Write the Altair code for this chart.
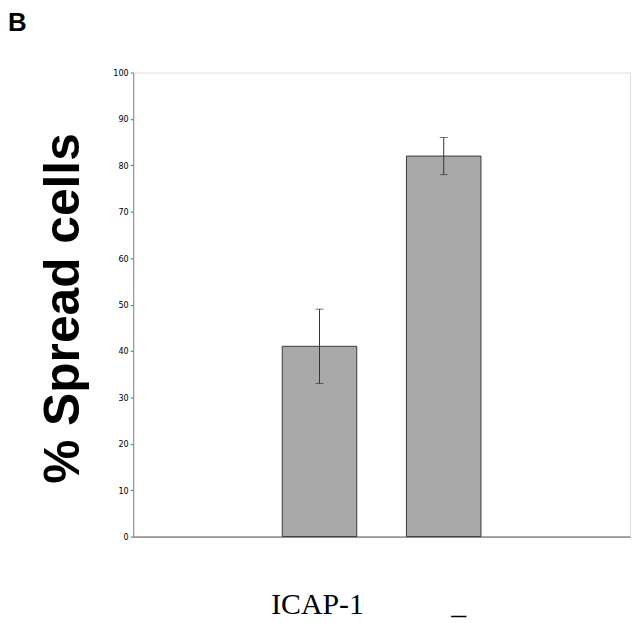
import altair as alt
import pandas as pd

slots = ["pad_left", "ICAP-1", "_", "pad_right"]
conditions = ["ICAP-1", "_"]
spread = [41, 82]
err = [8, 4]
y_ticks = [0, 10, 20, 30, 40, 50, 60, 70, 80, 90, 100]

df = pd.DataFrame({
    "cond": conditions,
    "value": spread,
    "lo": [v - e for v, e in zip(spread, err)],
    "hi": [v + e for v, e in zip(spread, err)],
})

xenc = alt.X(
    "cond:N",
    scale=alt.Scale(domain=slots, paddingInner=0.4, paddingOuter=0.2),
    axis=alt.Axis(
        title=None,
        labelExpr="datum.value == 'pad_left' || datum.value == 'pad_right' ? '' : datum.value",
        labelAngle=0,
        labelFont="Liberation Serif",
        labelFontSize=30,
        labelColor="black",
        labelBaseline="alphabetic",
        labelPadding=77,
        labelOffset={"condition": {"test": "datum.value == '_'", "value": 15}, "value": -2},
        ticks=False,
        domainColor="#555",
    ),
)

yscale = alt.Scale(domain=[0, 100], nice=False)

bars = alt.Chart(df).mark_bar(
    color="#a9a9a9", stroke="#3a3a3a", strokeWidth=1
).encode(
    x=xenc,
    y=alt.Y(
        "value:Q",
        scale=yscale,
        axis=alt.Axis(
            values=y_ticks,
            title="% Spread cells",
            titleFont="Liberation Sans",
            titleFontWeight="bold",
            titleFontSize=50,
            titleColor="black",
            titleAngle=-90,
            titleAlign="center",
            titleBaseline="middle",
            titleX=-70,
            titleY=237,
            labelFont="DejaVu Sans Condensed",
            labelFontSize=9,
            labelColor="black",
            tickSize=3,
            tickColor="#666",
            domainColor="#888",
            grid=False,
            labelPadding=2,
        ),
    ),
)

rules = alt.Chart(df).mark_rule(color="#333", strokeWidth=1).encode(
    x=alt.X("cond:N", scale=alt.Scale(domain=slots)),
    y=alt.Y("lo:Q", scale=yscale),
    y2="hi:Q",
)

caps = alt.Chart(df).transform_fold(["lo", "hi"], as_=["end", "yv"]).mark_tick(
    color="#333", thickness=1, size=8
).encode(
    x=alt.X("cond:N", scale=alt.Scale(domain=slots)),
    y=alt.Y("yv:Q", scale=yscale),
)

panel = alt.Chart(pd.DataFrame({"label": ["B"]})).mark_text(
    font="Liberation Sans", fontWeight="bold", fontSize=26, align="left", baseline="top", color="black"
).encode(
    text="label:N",
    x=alt.value(-126),
    y=alt.value(-63),
)

chart = alt.layer(bars, rules, caps, panel).properties(
    width=500,
    height=467,
    autosize=alt.AutoSizeParams(type="none"),
    padding={"left": 126, "top": 63, "right": 2, "bottom": 82},
).configure_view(
    stroke="#444", strokeWidth=1
).configure(background="white")

chart.save("out.html", embed_options={"renderer": "svg", "actions": False})
